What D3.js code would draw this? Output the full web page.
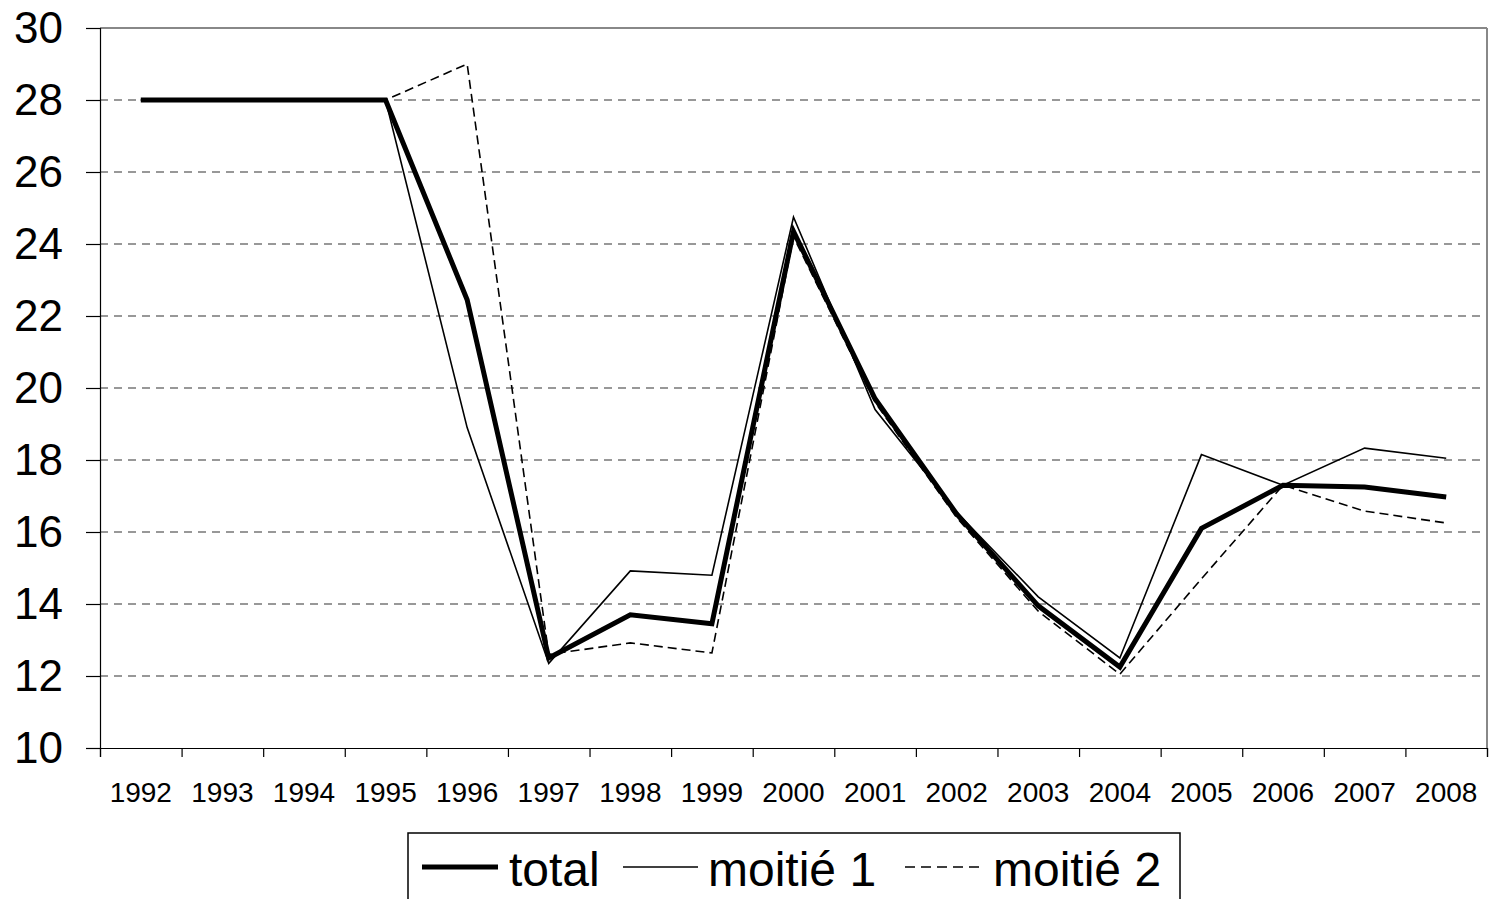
<!DOCTYPE html>
<html>
<head>
<meta charset="utf-8">
<script src="https://cdn.jsdelivr.net/npm/d3@7"></script>
<style>
  body { margin: 0; background: #fff; }
  svg { display: block; font-family: "Liberation Sans", Arial, sans-serif; }
</style>
</head>
<body>
<div id="chart"></div>
<script>
// years on the x axis
const years = ['1992', '1993', '1994', '1995', '1996', '1997', '1998', '1999', '2000',
               '2001', '2002', '2003', '2004', '2005', '2006', '2007', '2008'];

// series
const total  = [28, 28, 28, 28, 22.45, 12.5, 13.7, 13.45, 24.35, 19.7, 16.5, 13.95, 12.25, 16.1, 17.3, 17.25, 16.97];
const moitie1 = [28, 28, 28, 28, 18.9, 12.35, 14.92, 14.8, 24.75, 19.4, 16.55, 14.2, 12.5, 18.15, 17.3, 18.33, 18.05];
const moitie2 = [28, 28, 28, 28, 29.0, 12.6, 12.92, 12.64, 24.2, 19.6, 16.4, 13.8, 12.05, 14.7, 17.3, 16.58, 16.25];

const yTicks = [10, 12, 14, 16, 18, 20, 22, 24, 26, 28, 30];
const legendLabels = ['total', 'moitié 1', 'moitié 2'];

const width = 1489;
const height = 899;
const margin = { top: 28, right: 2, bottom: 151, left: 100 };

const svg = d3.select('#chart')
    .append('svg')
    .attr('width', width)
    .attr('height', height);

// scales
const xScale = d3.scaleBand()
    .domain(years)
    .range([margin.left, width - margin.right])
    .padding(0);

const xEdge = d3.scaleLinear()
    .domain([0, years.length])
    .range([margin.left, width - margin.right]);

const yScale = d3.scaleLinear()
    .domain([10, 30])
    .range([height - margin.bottom, margin.top]);

const xPos = i => xScale(years[i]) + xScale.bandwidth() / 2;

// horizontal grid lines (dashed)
svg.append('g')
    .selectAll('line')
    .data(yTicks.filter(v => v > 10 && v < 30))
    .enter()
    .append('line')
    .attr('x1', margin.left)
    .attr('x2', width - margin.right)
    .attr('y1', d => yScale(d))
    .attr('y2', d => yScale(d))
    .attr('stroke', '#333')
    .attr('stroke-width', 1.2)
    .attr('stroke-dasharray', '8,6');

// top and right borders of the plot area
svg.append('line')
    .attr('x1', margin.left).attr('x2', width - margin.right)
    .attr('y1', yScale(30)).attr('y2', yScale(30))
    .attr('stroke', '#888').attr('stroke-width', 2);
svg.append('line')
    .attr('x1', width - margin.right).attr('x2', width - margin.right)
    .attr('y1', yScale(30)).attr('y2', yScale(10))
    .attr('stroke', '#888').attr('stroke-width', 2);

// y axis
const yAxis = d3.axisLeft(yScale)
    .tickValues(yTicks)
    .tickSize(14)
    .tickPadding(23);
const gy = svg.append('g')
    .attr('transform', `translate(${margin.left}, 0)`)
    .call(yAxis);
gy.selectAll('text').style('font-size', '44px').attr('fill', '#000');
gy.selectAll('line, path').attr('stroke', '#000').attr('stroke-width', 1.2);

// x axis: ticks at the band edges, labels at the band centres
const xTickAxis = d3.axisBottom(xEdge)
    .tickValues(d3.range(years.length + 1))
    .tickSize(9)
    .tickFormat('');
const gxt = svg.append('g')
    .attr('transform', `translate(0, ${yScale(10)})`)
    .call(xTickAxis);
gxt.selectAll('line, path').attr('stroke', '#000').attr('stroke-width', 1.2);

const xAxis = d3.axisBottom(xScale)
    .tickSize(0)
    .tickPadding(34);
const gx = svg.append('g')
    .attr('transform', `translate(0, ${yScale(10)})`)
    .call(xAxis);
gx.select('.domain').remove();
gx.selectAll('text').style('font-size', '28px').attr('fill', '#000');

// lines
const line = d3.line()
    .x((d, i) => xPos(i))
    .y(d => yScale(d));

const seriesList = [
    { values: moitie2, width: 1.6, dash: '9,5' },
    { values: moitie1, width: 1.6, dash: null },
    { values: total, width: 5, dash: null }
];

seriesList.forEach(s => {
    svg.append('path')
        .datum(s.values)
        .attr('d', line)
        .attr('fill', 'none')
        .attr('stroke', '#000')
        .attr('stroke-width', s.width)
        .attr('stroke-linejoin', 'miter')
        .attr('stroke-dasharray', s.dash);
});

// legend
const legend = svg.append('g');
legend.append('rect')
    .attr('x', 408)
    .attr('y', 833)
    .attr('width', 772)
    .attr('height', 80)
    .attr('fill', '#fff')
    .attr('stroke', '#000')
    .attr('stroke-width', 1.5);

const legendItems = [
    { label: legendLabels[0], x1: 422, x2: 498, tx: 509, width: 5, dash: null },
    { label: legendLabels[1], x1: 623, x2: 698, tx: 708, width: 1.6, dash: null },
    { label: legendLabels[2], x1: 905, x2: 980, tx: 993, width: 1.6, dash: '10,6' }
];

legendItems.forEach(it => {
    legend.append('line')
        .attr('x1', it.x1).attr('x2', it.x2)
        .attr('y1', 867).attr('y2', 867)
        .attr('stroke', '#000')
        .attr('stroke-width', it.width)
        .attr('stroke-dasharray', it.dash);
    legend.append('text')
        .attr('x', it.tx)
        .attr('y', 886)
        .style('font-size', '48px')
        .attr('fill', '#000')
        .text(it.label);
});
</script>
</body>
</html>
